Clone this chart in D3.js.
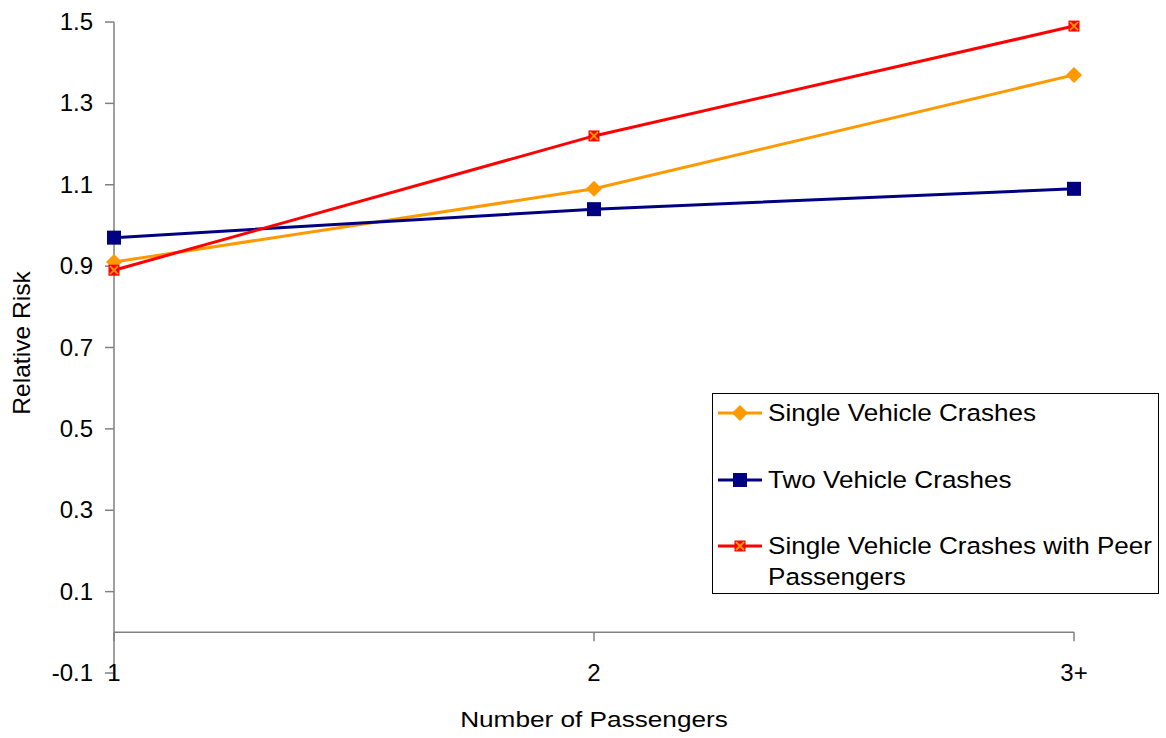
<!DOCTYPE html>
<html>
<head>
<meta charset="utf-8">
<script src="https://cdn.jsdelivr.net/npm/d3@7/dist/d3.min.js"></script>
<style>
  html, body { margin: 0; padding: 0; background: #fff; }
  svg { display: block; font-family: "Liberation Sans", Arial, sans-serif; }
</style>
</head>
<body>
<svg id="chart" width="1166" height="738"></svg>
<script>
// Passenger categories along the x axis
const categories = ["1", "2", "3+"];

// Relative risk by number of passengers
const singleVehicle = [0.91, 1.09, 1.37];
const twoVehicle = [0.97, 1.04, 1.09];
const singlePeer = [0.89, 1.22, 1.49];

// Y axis tick values
const yTicks = [-0.1, 0.1, 0.3, 0.5, 0.7, 0.9, 1.1, 1.3, 1.5];

const seriesNames = [
  "Single Vehicle Crashes",
  "Two Vehicle Crashes",
  "Single Vehicle Crashes with Peer Passengers"
];

const series = [
  { name: seriesNames[0], values: singleVehicle, color: "#FF9900", marker: "diamond" },
  { name: seriesNames[1], values: twoVehicle, color: "#000080", marker: "square" },
  { name: seriesNames[2], values: singlePeer, color: "#FF0000", marker: "xsquare" }
];

const svg = d3.select("#chart");
const axisColor = "#808080";

const x = d3.scalePoint().domain(categories).range([114, 1074]);
const y = d3.scaleLinear().domain([-0.1, 1.5]).range([673, 22]);

// Text helper with a slight horizontal stretch
function label(parent, tx, ty, str, opts = {}) {
  const size = opts.size || 24;
  const sx = opts.sx || 1;
  const rot = opts.rotate || 0;
  return parent.append("text")
    .attr("transform", `translate(${tx},${ty}) rotate(${rot}) scale(${sx},1)`)
    .attr("text-anchor", opts.anchor || "start")
    .attr("font-size", size)
    .attr("fill", "#000")
    .text(str);
}

// Y axis (line runs a little below the lowest tick)
const yAxisG = svg.append("g");
yAxisG.append("line")
  .attr("x1", 114).attr("x2", 114)
  .attr("y1", y(1.5)).attr("y2", y(-0.1) + 7)
  .attr("stroke", axisColor).attr("stroke-width", 1.5);
yAxisG.selectAll("line.tick").data(yTicks).join("line")
  .attr("class", "tick")
  .attr("x1", 105).attr("x2", 114)
  .attr("y1", d => y(d)).attr("y2", d => y(d))
  .attr("stroke", axisColor).attr("stroke-width", 1.5);
yTicks.forEach(d => {
  label(yAxisG, 93, y(d) + 8, d3.format(".1f")(d).replace("\u2212", "-"), { anchor: "end", size: 24 });
});

// X axis sits at zero
const xAxisG = svg.append("g");
xAxisG.append("line")
  .attr("x1", x(categories[0])).attr("x2", x(categories[categories.length - 1]))
  .attr("y1", y(0)).attr("y2", y(0))
  .attr("stroke", axisColor).attr("stroke-width", 1.5);
xAxisG.selectAll("line.tick").data(categories).join("line")
  .attr("class", "tick")
  .attr("x1", d => x(d)).attr("x2", d => x(d))
  .attr("y1", y(0)).attr("y2", y(0) + 9)
  .attr("stroke", axisColor).attr("stroke-width", 1.5);
categories.forEach(c => {
  label(xAxisG, x(c), 681, c, { anchor: "middle", size: 24 });
});

// Axis titles
label(svg, 594, 727, "Number of Passengers", { anchor: "middle", size: 22, sx: 1.19 });
label(svg, 30, 343, "Relative Risk", { anchor: "middle", size: 23, sx: 1.07, rotate: -90 });

// Marker drawing
function drawMarker(g, type, color) {
  if (type === "diamond") {
    g.append("path").attr("d", "M0,-8L8,0L0,8L-8,0Z").attr("fill", color);
  } else if (type === "square") {
    g.append("rect").attr("x", -7).attr("y", -7).attr("width", 14).attr("height", 14).attr("fill", color);
  } else {
    g.append("rect").attr("x", -5.5).attr("y", -5.5).attr("width", 11).attr("height", 11).attr("fill", color);
    g.append("path").attr("d", "M-4,-4L4,4M-4,4L4,-4")
      .attr("stroke", "#FF9900").attr("stroke-width", 1.8).attr("fill", "none");
  }
}

const line = d3.line().x((d, i) => x(categories[i])).y(d => y(d));

series.forEach(s => {
  svg.append("path")
    .datum(s.values)
    .attr("d", line)
    .attr("fill", "none")
    .attr("stroke", s.color)
    .attr("stroke-width", 3);
});
series.forEach(s => {
  s.values.forEach((v, i) => {
    const g = svg.append("g").attr("transform", `translate(${x(categories[i])},${y(v)})`);
    drawMarker(g, s.marker, s.color);
  });
});

// Legend
const legend = svg.append("g");
legend.append("rect")
  .attr("x", 712.5).attr("y", 393.5).attr("width", 446).attr("height", 200)
  .attr("fill", "#fff").attr("stroke", "#000").attr("stroke-width", 1);
const legendRows = [413, 480, 546];
series.forEach((s, i) => {
  const ly = legendRows[i];
  legend.append("line")
    .attr("x1", 718).attr("x2", 762).attr("y1", ly).attr("y2", ly)
    .attr("stroke", s.color).attr("stroke-width", 3);
  const g = legend.append("g").attr("transform", `translate(740,${ly})`);
  drawMarker(g, s.marker, s.color);
});
const legSize = 23.5, legSx = 1.11;
label(legend, 768, 421, seriesNames[0], { size: legSize, sx: legSx });
label(legend, 768, 488, seriesNames[1], { size: legSize, sx: legSx });
label(legend, 768, 554, "Single Vehicle Crashes with Peer", { size: legSize, sx: legSx });
label(legend, 768, 585, "Passengers", { size: legSize, sx: legSx });
</script>
</body>
</html>
